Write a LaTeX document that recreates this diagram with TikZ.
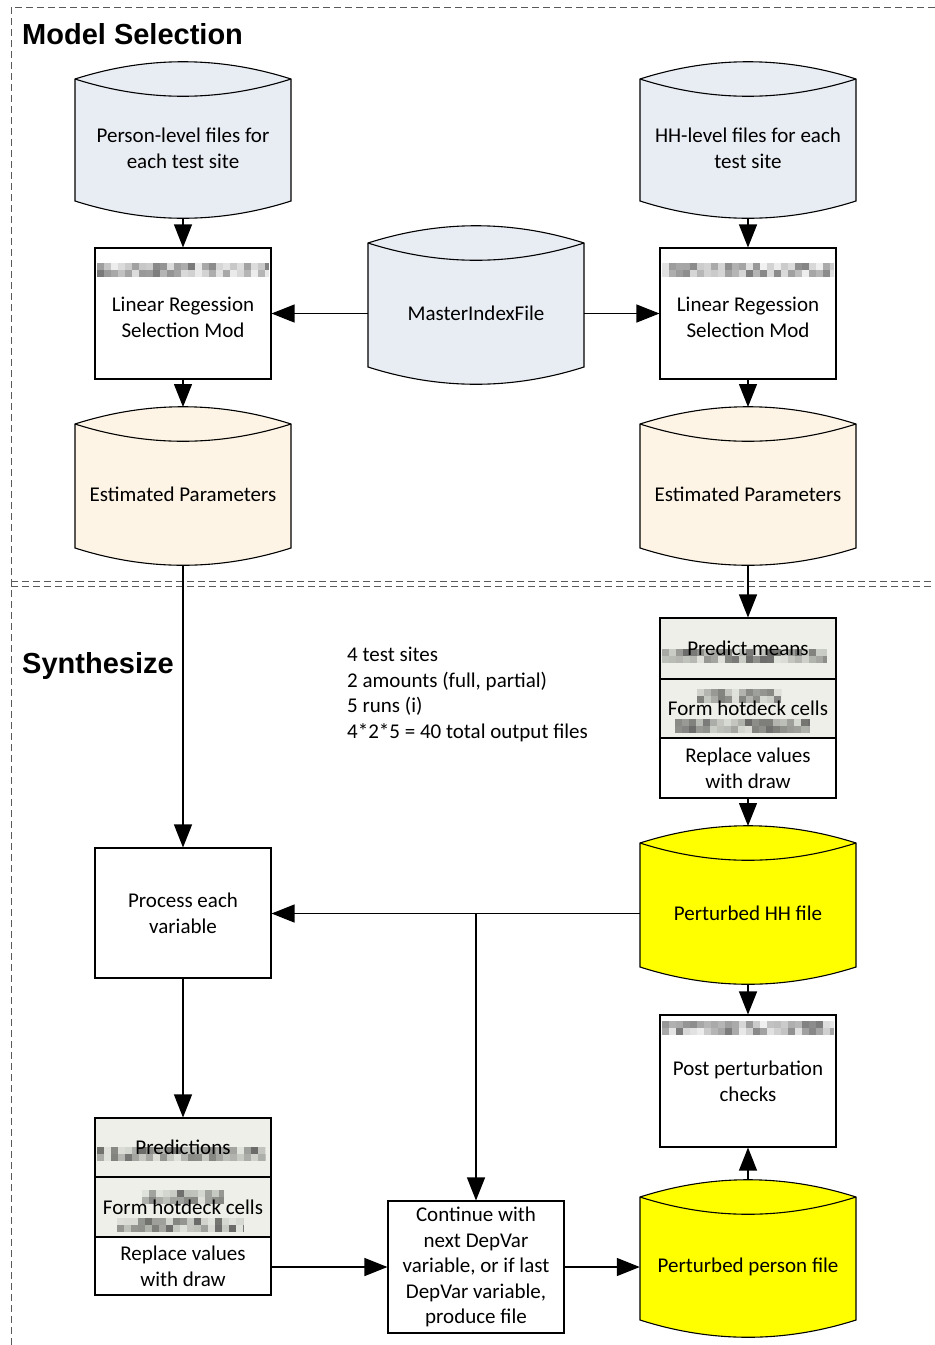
\documentclass[tikz,border=0pt]{standalone}
\usepackage{fontspec}
\setmainfont{Carlito}
\newfontfamily\headfont{Liberation Sans}
\usetikzlibrary{arrows.meta,calc}

\definecolor{storeblue}{HTML}{E8ECF3}
\definecolor{storepeach}{HTML}{FDF4E5}
\definecolor{storeyellow}{HTML}{FFFF00}
\definecolor{stepgray}{HTML}{EDEFE8}

\tikzset{
  conn/.style={line width=1.2pt, -{Triangle[length=23pt,width=18pt]}},
  store/.style={line width=1.1pt},
  lbl/.style={font=\fontsize{21}{25.6}\selectfont, align=center, inner sep=0pt},
  procbox/.style={lbl, draw, line width=1.1pt, fill=white, minimum width=176pt},
  stackbox/.style={procbox, minimum height=60pt},
  framed/.style={draw=black!65, dash pattern=on 7pt off 4pt, line width=0.9pt},
  heading/.style={font=\headfont\bfseries\fontsize{29}{34}\selectfont, anchor=base west, inner sep=0pt},
}

% data-store shape: name, left, right, top corner y, bottom corner y, fill, text
\newcommand\dstore[7]{%
  \pgfmathsetmacro\dsA{#2+(#3-#2)/3}%
  \pgfmathsetmacro\dsB{#2+2*(#3-#2)/3}%
  \pgfmathsetmacro\dsUp{#4-23}%
  \pgfmathsetmacro\dsIn{#4+23}%
  \pgfmathsetmacro\dsDn{#5+23}%
  \pgfmathsetmacro\dsCx{(#2+#3)/2}%
  \pgfmathsetmacro\dsCy{(#4+17+#5)/2}%
  \draw[store, fill=#6] (#2,#4) .. controls (\dsA,\dsUp) and (\dsB,\dsUp) .. (#3,#4)
     -- (#3,#5) .. controls (\dsB,\dsDn) and (\dsA,\dsDn) .. (#2,#5) -- cycle;
  \draw[store] (#2,#4) .. controls (\dsA,\dsIn) and (\dsB,\dsIn) .. (#3,#4);
  \node[lbl, minimum width=#3-#2] (#1) at (\dsCx,\dsCy) {#7};
  \coordinate (#1-n) at (\dsCx,#4-17);
  \coordinate (#1-s) at (\dsCx,#5+17);
}

% pixelated (obscured) strip of text: x from #1 to #2, y from #3 to #4
\newcommand\fuzz[4]{%
  \pgfmathtruncatemacro\fzN{(#2-#1)/7}%
  \pgfmathtruncatemacro\fzM{(#4-#3)/7-1}%
  \foreach \i in {0,...,\fzN}{%
    \foreach \j in {0,...,\fzM}{%
      \pgfmathsetmacro\fzO{0.05+0.5*rnd}%
      \fill[black, opacity=\fzO] ({#1+7*\i},{#3+7*\j}) rectangle ({min(#1+7*\i+7,#2)},{min(#3+7*\j+7,#4)});
    }}}

\begin{document}
\begin{tikzpicture}[x=1pt, y=-1pt]
\pgfmathsetseed{11}
\useasboundingbox (0,0) rectangle (935,1345);

% section frames
\draw[framed] (11,1345) -- (11,7) -- (935,7);
\draw[framed] (11,581) -- (935,581);
\draw[framed] (11,586) -- (935,586);
\node[heading] (ttlmodel) at (22,44) {Model Selection};
\node[heading] (ttlsynth) at (22,673) {Synthesize};

% ---- Model selection ----
\dstore{pfiles}{75}{291}{79}{201}{storeblue}{Person-level files for\\each test site}
\dstore{hfiles}{640}{856}{79}{201}{storeblue}{HH-level files for each\\test site}
\dstore{master}{368}{584}{243}{367}{storeblue}{MasterIndexFile}
\dstore{estp}{75}{291}{424}{548}{storepeach}{Estimated Parameters}
\dstore{esth}{640}{856}{424}{548}{storepeach}{Estimated Parameters}

\node[procbox, minimum height=131pt] (lrp) at (183,313.5) {\\[-4pt]Linear Regession\\Selection Mod};
\node[procbox, minimum height=131pt] (lrh) at (748,313.5) {\\[-4pt]Linear Regession\\Selection Mod};
\fuzz{97}{269}{263}{277}
\fuzz{662}{834}{263}{277}

\draw[conn] (pfiles-s) -- (lrp.north);
\draw[conn] (hfiles-s) -- (lrh.north);
\draw[conn] (master.west) -- (master.west -| lrp.east);
\draw[conn] (master.east) -- (master.east -| lrh.west);
\draw[conn] (lrp.south) -- (estp-n);
\draw[conn] (lrh.south) -- (esth-n);

% ---- Synthesize ----
\node[lbl, align=left, anchor=west] (runs) at (347,694.5)
  {4 test sites\\2 amounts (full, partial)\\5 runs (i)\\4*2*5 = 40 total output files};

\node[stackbox, fill=stepgray, minimum height=61pt] (rs1) at (748,648.5) {Predict means};
\node[stackbox, fill=stepgray, minimum height=59pt] (rs2) at (748,708.5) {Form hotdeck cells};
\node[stackbox] (rs3) at (748,768) {Replace values\\with draw};
\fuzz{662}{827}{649}{663}
\fuzz{697}{781}{689}{703}
\fuzz{675}{810}{719}{733}

\dstore{perth}{640}{856}{843}{967}{storeyellow}{Perturbed HH file}
\dstore{pertp}{640}{856}{1197}{1320}{storeyellow}{Perturbed person file}

\node[procbox, minimum height=130pt] (proc) at (183,913) {Process each\\variable};
\node[procbox, minimum height=132pt] (post) at (748,1081) {Post perturbation\\checks};
\fuzz{662}{834}{1021}{1035}

\node[stackbox, fill=stepgray, minimum height=59pt] (ls1) at (183,1147.5) {Predictions};
\node[stackbox, fill=stepgray, minimum height=60pt] (ls2) at (183,1207) {Form hotdeck cells};
\node[stackbox, minimum height=58pt] (ls3) at (183,1266) {Replace values\\with draw};
\fuzz{97}{266}{1147}{1161}
\fuzz{142}{224}{1190}{1204}
\fuzz{117}{244}{1218}{1232}

\node[procbox, minimum height=132pt] (cont) at (476,1267)
  {Continue with\\next DepVar\\variable, or if last\\DepVar variable,\\produce file};

\coordinate (split) at (cont.north |- perth.west);

\draw[conn] (esth-s) -- (rs1.north);
\draw[conn] (rs3.south) -- (perth-n);
\draw[conn] (estp-s) -- (proc.north);
\draw[conn] (perth.west) -- (perth.west -| proc.east);
\draw[conn] (split) -- (cont.north);
\draw[conn] (proc.south) -- (ls1.north);
\draw[conn] (cont.west -| ls3.east) -- (cont.west);
\draw[conn] (cont.east) -- (cont.east -| pertp.west);
\draw[conn] (perth-s) -- (post.north);
\draw[conn] (pertp-n) -- (post.south);
\end{tikzpicture}
\end{document}
